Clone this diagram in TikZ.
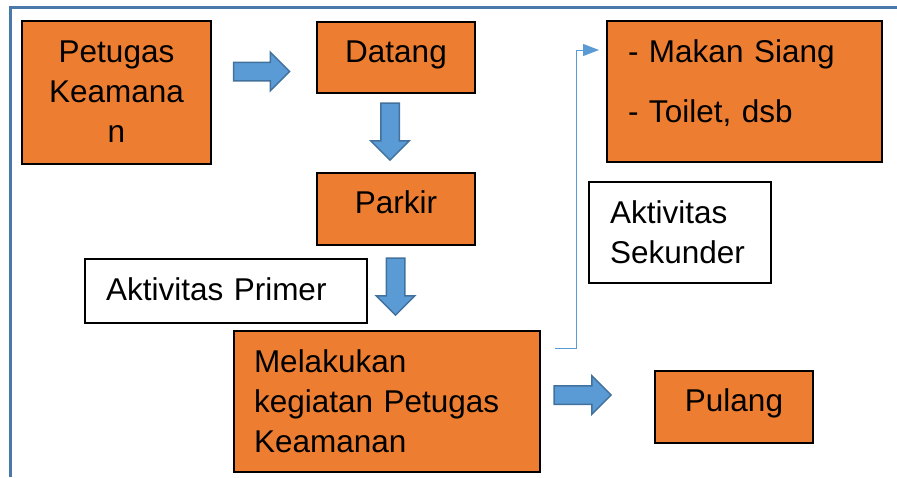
\documentclass[tikz,border=0pt]{standalone}
\usepackage{fontspec}
\setmainfont{Liberation Sans}
\usetikzlibrary{shapes.arrows,arrows.meta}
\definecolor{oranye}{HTML}{ED7D31}
\definecolor{biru}{HTML}{5B9BD5}
\definecolor{birutua}{HTML}{41719C}
\definecolor{garisbingkai}{HTML}{4A78AA}

\begin{document}
\begin{tikzpicture}[x=1pt, y=-1pt, font=\fontsize{31.5}{40}\selectfont, line join=miter,
	kotak/.style={draw=black, line width=2pt, fill=oranye, inner sep=0pt, outer sep=0pt, text height=22pt, text depth=13pt},
	teks/.style={draw=black, line width=1.5pt, fill=white, inner ysep=0pt, inner xsep=21pt, outer sep=0pt, text height=22pt, align=left},
	panah/.style={single arrow, draw=birutua, line width=1.5pt, fill=biru, inner sep=8.5pt, single arrow head extend=10pt, minimum height=#1},
	hubung/.style={draw=biru, line width=1pt, -{Triangle[length=16pt, width=12pt]}}]
	\useasboundingbox (0,0) rectangle (897,477);
	\draw[garisbingkai, line width=3pt] (10,477) -- (10,7) -- (897,7); %bingkai
	% kotak oranye
	\node[kotak, minimum width=189pt, minimum height=143pt, inner xsep=10pt, text width=169pt, align=center, text depth=83pt] (petugas) at (116.5,92.5) {Petugas\\Keamana\\n};
	\node[kotak, minimum width=158pt, minimum height=71pt] (datang) at (396,57.5) {Datang};
	\node[kotak, minimum width=158pt, minimum height=72pt] (parkir) at (396,209) {Parkir};
	\node[kotak, minimum width=306pt, minimum height=141pt, inner xsep=20pt, text width=266pt, align=left, text depth=81pt] (melakukan) at (387,401.5) {Melakukan\\kegiatan Petugas\\Keamanan};
	\node[kotak, minimum width=275pt, minimum height=141pt, inner xsep=21pt, text width=233pt, align=left, text depth=81pt] (makan) at (744.5,91.5) {- Makan Siang\\[20pt]- Toilet, dsb};
	\node[kotak, minimum width=158pt, minimum height=72pt] (pulang) at (734,407) {Pulang};
	% kotak putih
	\node[teks, minimum width=282pt, minimum height=64pt, text width=240pt, text depth=4pt] (primer) at (226,291) {Aktivitas Primer};
	\node[teks, minimum width=182pt, minimum height=101pt, text width=140pt, text depth=41pt] (sekunder) at (680,232.5) {Aktivitas\\Sekunder};
	% panah blok
	\node[panah=56pt] (p1) at (257,71.5) {};
	\node[panah=57pt, rotate=-90] (p2) at (390,127) {};
	\node[panah=57pt, rotate=-90] (p3) at (395.5,282) {};
	\node[panah=57pt] (p4) at (578,395) {};
	% garis ke aktivitas sekunder
	\coordinate (k1) at ([shift={(15,17)}]melakukan.north east);
	\coordinate (k3) at ([shift={(-8,29)}]makan.north west);
	\draw[hubung] (k1) -- ++(21.5,0) |- (k3);
\end{tikzpicture}
\end{document}
